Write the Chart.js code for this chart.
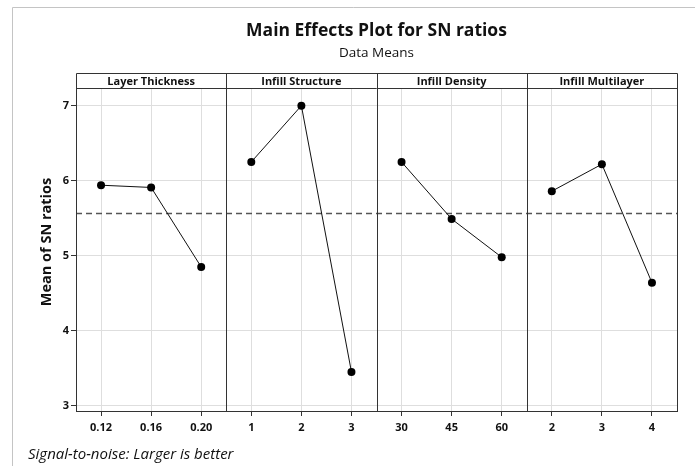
<!DOCTYPE html>
<html>
<head>
<meta charset="utf-8">
<title>Main Effects Plot for SN ratios</title>
<script src="https://cdn.jsdelivr.net/npm/chart.js@4.4.1/dist/chart.umd.min.js"></script>
<style>
  body { margin: 0; background: #fff; }
  #wrap { width: 695px; height: 466px; }
</style>
</head>
<body>
<div id="wrap"><canvas id="mainEffects" width="695" height="466"></canvas></div>
<script>
// --- DATA ---
const factorNames = ['Layer Thickness', 'Infill Structure', 'Infill Density', 'Infill Multilayer'];
const layerLabels = ['0.12', '0.16', '0.20'];
const structureLabels = ['1', '2', '3'];
const densityLabels = ['30', '45', '60'];
const multilayerLabels = ['2', '3', '4'];
const layerSN = [5.94, 5.91, 4.85];
const structureSN = [6.25, 7.00, 3.45];
const densitySN = [6.25, 5.49, 4.98];
const multilayerSN = [5.86, 6.22, 4.64];
const meanSN = 5.57;
const yTicks = [3, 4, 5, 6, 7];

const FONT = "'Open Sans', 'Noto Sans', sans-serif";

// --- BUILD ---
const levelGroups = [layerLabels, structureLabels, densityLabels, multilayerLabels];
const valueGroups = [layerSN, structureSN, densitySN, multilayerSN];
const allLabels = levelGroups.flat();

const datasets = valueGroups.map((vals, g) => {
    const data = allLabels.map(() => null);
    let start = 0;
    for (let i = 0; i < g; i++) start += levelGroups[i].length;
    vals.forEach((v, i) => { data[start + i] = v; });
    return {
        label: factorNames[g],
        data: data,
        borderColor: '#111',
        backgroundColor: '#000',
        borderWidth: 1,
        pointRadius: 4,
        pointHoverRadius: 4,
        pointBorderWidth: 0,
        tension: 0,
        spanGaps: false
    };
});

// --- PANEL / TEXT PLUGIN ---
const panelPlugin = {
    id: 'panels',
    beforeDraw(chart) {
        const ctx = chart.ctx;
        ctx.save();
        ctx.fillStyle = '#fff';
        ctx.fillRect(0, 0, chart.width, chart.height);
        ctx.strokeStyle = '#c4c4c4';
        ctx.lineWidth = 1;
        ctx.beginPath();
        ctx.moveTo(12.5, chart.height);
        ctx.lineTo(12.5, 7.5);
        ctx.lineTo(chart.width, 7.5);
        ctx.stroke();
        ctx.restore();
    },
    beforeDatasetsDraw(chart) {
        const { ctx, chartArea, scales } = chart;
        const y = Math.round(scales.y.getPixelForValue(meanSN)) + 0.5;
        ctx.save();
        ctx.strokeStyle = '#555';
        ctx.lineWidth = 1.5;
        ctx.setLineDash([6, 4]);
        ctx.beginPath();
        ctx.moveTo(chartArea.left, y);
        ctx.lineTo(chartArea.right, y);
        ctx.stroke();
        ctx.restore();
    },
    afterDraw(chart) {
        const { ctx, chartArea, scales } = chart;
        const x = scales.x;
        const headTop = chartArea.top - 15;
        ctx.save();

        // panel edges
        const edges = [chartArea.left];
        let idx = 0;
        levelGroups.forEach((grp, g) => {
            idx += grp.length;
            if (g < levelGroups.length - 1) {
                edges.push((x.getPixelForValue(idx - 1) + x.getPixelForValue(idx)) / 2);
            }
        });
        edges.push(chartArea.right);

        ctx.strokeStyle = '#333';
        ctx.lineWidth = 1;
        ctx.beginPath();
        ctx.rect(Math.round(chartArea.left) + 0.5, headTop + 0.5,
                 Math.round(chartArea.right - chartArea.left), Math.round(chartArea.bottom - headTop));
        ctx.moveTo(chartArea.left, Math.round(chartArea.top) + 0.5);
        ctx.lineTo(chartArea.right, Math.round(chartArea.top) + 0.5);
        for (let i = 1; i < edges.length - 1; i++) {
            const ex = Math.round(edges[i]) + 0.5;
            ctx.moveTo(ex, headTop);
            ctx.lineTo(ex, chartArea.bottom);
        }
        ctx.stroke();

        // panel headers
        ctx.fillStyle = '#111';
        ctx.font = `bold 11px ${FONT}`;
        ctx.textAlign = 'center';
        ctx.textBaseline = 'middle';
        factorNames.forEach((name, i) => {
            ctx.fillText(name, (edges[i] + edges[i + 1]) / 2, headTop + 9);
        });

        // titles
        const cx = (chartArea.left + chartArea.right) / 2;
        ctx.font = `bold 17.5px ${FONT}`;
        ctx.fillText('Main Effects Plot for SN ratios', cx, 31);
        ctx.font = `13.5px ${FONT}`;
        ctx.fillText('Data Means', cx, 53);

        // y title
        ctx.save();
        ctx.translate(47, (headTop + chartArea.bottom) / 2);
        ctx.rotate(-Math.PI / 2);
        ctx.font = `bold 14.5px ${FONT}`;
        ctx.fillText('Mean of SN ratios', 0, 0);
        ctx.restore();

        // footer
        ctx.textAlign = 'left';
        ctx.font = `italic 15px ${FONT}`;
        ctx.fillText('Signal-to-noise: Larger is better', 28, 455);
        ctx.restore();
    }
};

// --- CHART ---
new Chart(document.getElementById('mainEffects'), {
    type: 'line',
    data: { labels: allLabels, datasets: datasets },
    options: {
        responsive: false,
        animation: false,
        layout: { padding: { top: 88, right: 18, bottom: 0, left: 0 } },
        plugins: {
            legend: { display: false },
            title: { display: false },
            tooltip: { enabled: false }
        },
        scales: {
            x: {
                type: 'category',
                offset: true,
                grid: { offset: false, color: '#dedede', tickColor: '#333', tickLength: 5 },
                border: { color: '#333' },
                ticks: { color: '#111', padding: 5, maxRotation: 0, autoSkip: false,
                         font: { family: FONT, size: 11, weight: 'bold' } },
                afterFit(scale) { scale.height = 55; }
            },
            y: {
                min: 2.93,
                max: 7.236,
                grid: { color: '#dedede', tickColor: '#333', tickLength: 5 },
                border: { color: '#333' },
                ticks: { color: '#111', padding: 2,
                         font: { family: FONT, size: 11, weight: 'bold' } },
                afterBuildTicks(scale) { scale.ticks = yTicks.map(v => ({ value: v })); },
                afterFit(scale) { scale.width = 76; }
            }
        }
    },
    plugins: [panelPlugin]
});
</script>
</body>
</html>
